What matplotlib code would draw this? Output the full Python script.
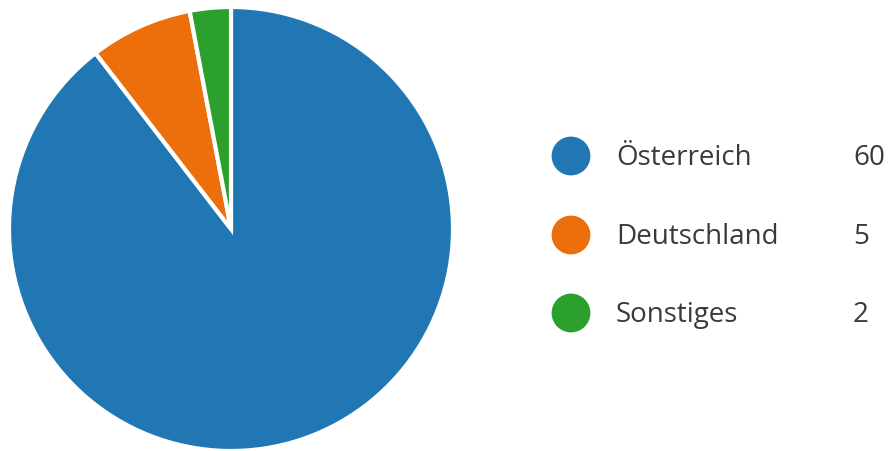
import matplotlib.pyplot as plt

# Verteilung nach Land
laender = ["Österreich", "Deutschland", "Sonstiges"]
anzahl = [60, 5, 2]
farben = ["#2077B4", "#EC6F0B", "#2CA02C"]

plt.rcParams['font.family'] = ['Open Sans', 'DejaVu Sans']

fig = plt.figure(figsize=(8.93, 4.52), dpi=100)

# Kreisdiagramm links, beginnt oben und läuft im Uhrzeigersinn
ax = fig.add_axes([9 / 893, 0 / 452, 444 / 893, 444 / 452])
ax.pie(anzahl, colors=farben, startangle=90, counterclock=False, radius=1,
       wedgeprops=dict(edgecolor="white", linewidth=3))
ax.set_xlim(-1.0, 1.0)
ax.set_ylim(-1.0, 1.0)
ax.set_aspect("equal")
ax.axis("off")

# Legende rechts mit Werten
lg = fig.add_axes([0, 0, 1, 1])
lg.set_xlim(0, 893)
lg.set_ylim(452, 0)
lg.axis("off")
zeilen_y = [157, 236, 314]
for y, name, wert, farbe in zip(zeilen_y, laender, anzahl, farben):
    lg.scatter([571], [y], s=780, color=farbe, edgecolors="none")
    lg.text(616, y + 1, name, fontsize=20, color="#3a3a3a", va="center", ha="left")
    lg.text(853, y + 1, str(wert), fontsize=20, color="#3a3a3a", va="center", ha="left")

fig.savefig("out.png", dpi=100)
